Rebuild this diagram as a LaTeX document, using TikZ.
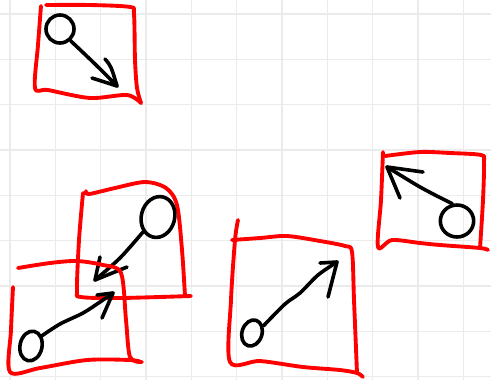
\documentclass[tikz,border=0pt]{standalone}
\usepackage{tikz}
\usetikzlibrary{shapes.geometric}

\begin{document}
\begin{tikzpicture}[
  x=0.75pt,y=-0.75pt,
  gridline/.style={draw=black!8,line width=0.8pt},
  frame/.style={draw=red,line width=2.9pt,line cap=round,line join=round},
  pen/.style={draw=black,line width=2.7pt,line cap=round,line join=round},
  blob/.style={pen,ellipse,inner sep=0pt,minimum width=#1}
]
\useasboundingbox[fill=white] (0,0) rectangle (491,380);

% grid paper
\foreach \i in {0,...,10}
  \draw[gridline] ({10+45.33*\i},0) -- ++(0,380);
\foreach \j in {0,...,8}
  \draw[gridline] (0,{14+45.33*\j}) -- ++(491,0);

% top left
\draw[frame] plot[smooth,tension=0.5] coordinates
  {(41,6) (38,45) (35,88) (48,90) (90,98) (127,95) (141,103)};
\draw[frame] plot[smooth,tension=0.5] coordinates
  {(46,5) (90,5) (130,7) (134,14) (135,60) (137,88) (141,103)};
\node[blob=21pt,minimum height=21pt] (c1) at (60,29) {};
\coordinate (t1) at (117,86);
\draw[pen] plot[smooth] coordinates {(c1.-48) (95,64) (t1)};
\draw[pen] (105,59) .. controls (111,66) .. (t1) -- (92,78);

% middle left, upper
\draw[frame] plot[smooth,tension=0.5] coordinates
  {(86,191) (89,194) (115,188) (145,182) (166,188) (177,205) (182,250) (185,296)};
\draw[frame] plot[smooth,tension=0.5] coordinates
  {(83,193) (79,240) (77,290) (81,297) (120,298) (191,296)};
\node[blob=25pt,minimum height=31pt,rotate=-15] (c2) at (158,217) {};
\coordinate (t2) at (95,280);
\draw[pen] plot[smooth] coordinates {(c2.-120) (120,258) (t2)};
\draw[pen] (100,257) -- (t2) -- (127,267);

% lower left
\draw[frame] plot[smooth,tension=0.5] coordinates
  {(18,268) (50,263) (77,261) (103,265) (121,273) (126,320) (130,357) (142,362)};
\draw[frame] plot[smooth,tension=0.5] coordinates
  {(13,287) (11,330) (10,372) (40,368) (87,360) (130,360) (141,362)};
\node[blob=16.5pt,minimum height=22.5pt,rotate=-12] (c3) at (31,346) {};
\coordinate (t3) at (113,293);
\draw[pen] plot[smooth] coordinates {(c3.55) (60,324) (83,313) (100,302) (t3)};
\draw[pen] (97,295) -- (t3) -- (102,318);

% lower middle
\draw[frame] plot[smooth,tension=0.5] coordinates
  {(238,220) (235,240) (231,300) (230,362) (260,361) (303,367) (340,370) (357,373) (363,377)};
\draw[frame] plot[smooth,tension=0.5] coordinates
  {(232,240) (260,238) (287,236) (320,241) (345,246) (352,252) (354,300) (357,373)};
\node[blob=15pt,minimum height=20pt,rotate=-18] (c4) at (252,333) {};
\coordinate (t4) at (337,262);
\draw[pen] plot[smooth] coordinates {(c4.50) (285,304) (300,293) (318,275) (t4)};
\draw[pen] (320,263) -- (t4) -- (328,297);

% right
\draw[frame] plot[smooth,tension=0.5] coordinates
  {(383,152) (381,200) (378,247) (392,240) (420,243) (440,245) (480,248) (488,250)};
\draw[frame] plot[smooth,tension=0.5] coordinates
  {(385,156) (420,152) (450,153) (481,155) (484,162) (483,200) (480,248)};
\node[blob=25pt,minimum height=24pt] (c5) at (457,221) {};
\coordinate (t5) at (387,167);
\draw[pen] plot[smooth] coordinates {(c5.105) (435,195) (420,187) (405,178) (t5)};
\draw[pen] (423,172) -- (t5) -- (400,198);
\end{tikzpicture}
\end{document}
